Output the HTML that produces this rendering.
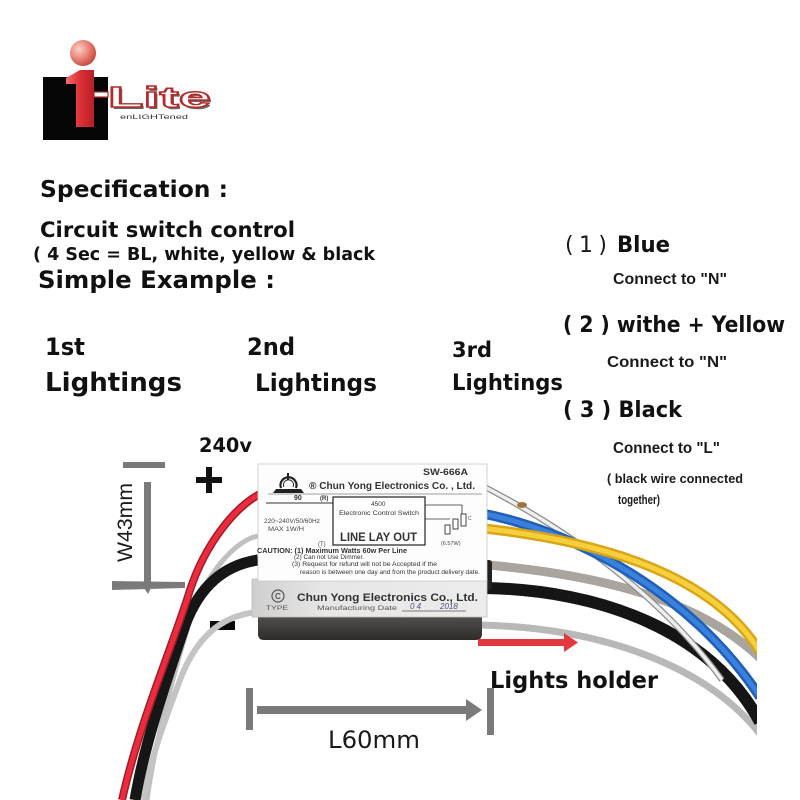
<!DOCTYPE html>
<html>
<head>
<meta charset="utf-8">
<style>
html,body{margin:0;padding:0;background:#fff;}
svg{display:block;}
.b{font-family:"DejaVu Sans","Liberation Sans",sans-serif;font-weight:bold;fill:#111;}
.r{font-family:"DejaVu Sans","Liberation Sans",sans-serif;font-weight:normal;fill:#1a1a1a;}
.l{font-family:"Liberation Sans","DejaVu Sans",sans-serif;font-weight:bold;fill:#1a1a1a;}
.s{font-family:"Liberation Sans",sans-serif;font-weight:bold;fill:#333;}
</style>
</head>
<body>
<svg width="800" height="800" viewBox="0 0 800 800" xmlns="http://www.w3.org/2000/svg">
<defs>
  <radialGradient id="ball" cx="0.35" cy="0.35" r="0.7">
    <stop offset="0" stop-color="#fbd0c8"/>
    <stop offset="0.5" stop-color="#ec8a7e"/>
    <stop offset="1" stop-color="#c8473c"/>
  </radialGradient>
  <linearGradient id="iGrad" x1="0" x2="1" y1="0" y2="0">
    <stop offset="0" stop-color="#f07070"/>
    <stop offset="0.45" stop-color="#e0333a"/>
    <stop offset="1" stop-color="#b81e26"/>
  </linearGradient>
  <linearGradient id="side" x1="0" x2="1" y1="0" y2="0">
    <stop offset="0" stop-color="#cfcfcf"/>
    <stop offset="0.3" stop-color="#e6e6e6"/>
    <stop offset="1" stop-color="#ececec"/>
  </linearGradient>
  <linearGradient id="base" x1="0" x2="0" y1="0" y2="1">
    <stop offset="0" stop-color="#5a5552"/>
    <stop offset="1" stop-color="#2e2b29"/>
  </linearGradient>
  <clipPath id="rclip"><rect x="0" y="0" width="757" height="800"/></clipPath>
</defs>

<!-- ===== Logo ===== -->
<rect x="43" y="77" width="65" height="63" fill="#050505"/>
<polygon points="66,78 80,70 94,70 94,127 76,127 76,84 66,84" fill="url(#iGrad)"/>
<circle cx="83" cy="53" r="13" fill="url(#ball)"/>
<rect x="94" y="92" width="14" height="5" fill="#fff" stroke="#b52a2a" stroke-width="1.2"/>
<text x="110" y="109" font-family="Liberation Sans, sans-serif" font-weight="bold" font-size="29" textLength="103" lengthAdjust="spacingAndGlyphs" fill="#666">Lite</text>
<text x="108" y="107" font-family="Liberation Sans, sans-serif" font-weight="bold" font-size="29" textLength="103" lengthAdjust="spacingAndGlyphs" fill="#fff" stroke="#b52a2a" stroke-width="1.4">Lite</text>
<text x="120" y="119" font-family="Liberation Sans, sans-serif" font-size="6" textLength="68" lengthAdjust="spacingAndGlyphs" fill="#333">enLIGHTened</text>

<!-- ===== Text block ===== -->
<text class="b" x="40" y="197" font-size="23.5" textLength="188" lengthAdjust="spacingAndGlyphs">Specification :</text>
<text class="b" x="40" y="237" font-size="21" textLength="255" lengthAdjust="spacingAndGlyphs">Circuit switch control</text>
<text class="b" x="33" y="260" font-size="17.5" textLength="342" lengthAdjust="spacingAndGlyphs">( 4 Sec = BL, white, yellow &amp; black</text>
<text class="b" x="38" y="288" font-size="24.3" textLength="237" lengthAdjust="spacingAndGlyphs">Simple Example :</text>

<text class="b" x="45" y="355" font-size="24" textLength="40" lengthAdjust="spacingAndGlyphs">1st</text>
<text class="b" x="45" y="391" font-size="26" textLength="137" lengthAdjust="spacingAndGlyphs">Lightings</text>
<text class="b" x="247" y="355" font-size="24" textLength="48" lengthAdjust="spacingAndGlyphs">2nd</text>
<text class="b" x="255" y="391" font-size="24" textLength="122" lengthAdjust="spacingAndGlyphs">Lightings</text>
<text class="b" x="452" y="357" font-size="21" textLength="40" lengthAdjust="spacingAndGlyphs">3rd</text>
<text class="b" x="452" y="390" font-size="22" textLength="111" lengthAdjust="spacingAndGlyphs">Lightings</text>

<text class="r" x="565" y="252" font-size="22" textLength="42" lengthAdjust="spacing">(1)</text>
<text class="b" x="617" y="252" font-size="22" textLength="53" lengthAdjust="spacingAndGlyphs">Blue</text>
<text class="l" x="613" y="284" font-size="15.5" textLength="114" lengthAdjust="spacingAndGlyphs">Connect to "N"</text>
<text class="b" x="563" y="332" font-size="22.5" textLength="222" lengthAdjust="spacingAndGlyphs">( 2 ) withe + Yellow</text>
<text class="l" x="607" y="367" font-size="16" textLength="120" lengthAdjust="spacingAndGlyphs">Connect to "N"</text>
<text class="b" x="563" y="417" font-size="22.5" textLength="119" lengthAdjust="spacingAndGlyphs">( 3 ) Black</text>
<text class="l" x="613" y="453" font-size="15.5" textLength="107" lengthAdjust="spacingAndGlyphs">Connect to "L"</text>
<text class="l" x="607" y="483" font-size="12.5" textLength="136" lengthAdjust="spacingAndGlyphs" fill="#222">( black wire connected</text>
<text class="l" x="618" y="504" font-size="12.5" textLength="42" lengthAdjust="spacingAndGlyphs" fill="#222">together)</text>

<!-- ===== 240v + / - ===== -->
<text class="b" x="199" y="452" font-size="19.5" textLength="53" lengthAdjust="spacingAndGlyphs">240v</text>
<rect x="196" y="477" width="26" height="6" fill="#111"/>
<rect x="206" y="467" width="6" height="26" fill="#111"/>
<rect x="210" y="621" width="25" height="9" fill="#0a0a0a"/>

<!-- ===== W43mm dimension ===== -->
<rect x="123" y="462" width="42" height="6" fill="#7a7a7a"/>
<rect x="144" y="482" width="7" height="106" fill="#7a7a7a"/>
<polygon points="112,581 185,582 185,588 112,590" fill="#7a7a7a"/>
<polygon points="144,588 151,588 148,594" fill="#7a7a7a"/>
<text x="0" y="0" transform="translate(132,562) rotate(-90)" font-family="Liberation Sans, sans-serif" font-size="21" textLength="79" lengthAdjust="spacingAndGlyphs" fill="#1a1a1a">W43mm</text>

<!-- ===== L60mm dimension ===== -->
<rect x="246" y="688" width="7" height="42" fill="#7a7a7a"/>
<rect x="257" y="706" width="212" height="8" fill="#7a7a7a"/>
<polygon points="466,699 482,710 466,721" fill="#7a7a7a"/>
<rect x="487" y="688" width="7" height="47" fill="#7a7a7a"/>
<text class="r" x="328" y="748" font-size="24" textLength="92" lengthAdjust="spacingAndGlyphs">L60mm</text>

<!-- ===== Right wires ===== -->
<g clip-path="url(#rclip)" fill="none" stroke-linecap="butt">
  <path d="M480,625 C610,628 710,670 760,734" stroke="#b8b8b8" stroke-width="7"/>
  <path d="M488,565 C600,575 700,600 760,658" stroke="#aaa49e" stroke-width="9"/>
  <path d="M485,588 C600,590 710,630 760,722" stroke="#151515" stroke-width="12"/>
  <path d="M477,483 C540,515 650,580 722,680" stroke="#8c8c8c" stroke-width="6"/>
  <path d="M477,483 C540,515 650,580 722,680" stroke="#eeeeee" stroke-width="3.5"/>
  <path d="M480,513 C570,530 690,590 760,697" stroke="#1f5fb8" stroke-width="10"/>
  <path d="M480,513 C570,530 690,590 760,697" stroke="#3a80dd" stroke-width="5"/>
  <path d="M480,528 C590,540 710,570 760,652" stroke="#d9a516" stroke-width="10"/>
  <path d="M480,528 C590,540 710,570 760,652" stroke="#f6cf3c" stroke-width="5"/>
</g>
<ellipse cx="522" cy="505" rx="5" ry="3" fill="#a0743c"/>

<!-- ===== Left wires ===== -->
<g fill="none">
  <path d="M258,536 C235,540 205,575 190,620 C175,670 155,740 147,800" stroke="#c0c0c0" stroke-width="5"/>
  <path d="M260,612 C220,614 195,640 180,680 C165,720 150,760 143,800" stroke="#c4c4c4" stroke-width="6"/>
  <path d="M258,560 C225,565 200,585 185,625 C170,670 145,740 135,800" stroke="#161616" stroke-width="11"/>
  <path d="M264,492 C235,505 205,545 190,590 C175,640 140,720 122,800" stroke="#a01c28" stroke-width="8"/>
  <path d="M264,492 C235,505 205,545 190,590 C175,640 140,720 122,800" stroke="#ec2b3e" stroke-width="5"/>
</g>

<!-- ===== Device ===== -->
<path d="M258,612 L482,612 L482,634 Q482,640 476,640 L264,640 Q258,640 258,634 Z" fill="url(#base)"/>
<rect x="484" y="560" width="8" height="30" rx="3" fill="#222"/>
<rect x="252" y="579" width="235" height="38" fill="url(#side)" stroke="#bdbdbd" stroke-width="0.8"/>
<rect x="258" y="464" width="229" height="117" fill="#fdfdfd" stroke="#c8c8c8" stroke-width="0.8"/>

<!-- header -->
<path d="M281,488 A8,8 0 1,1 296,488" fill="none" stroke="#222" stroke-width="2.2"/>
<path d="M284,487 A5,5 0 1,1 293,487" fill="none" stroke="#222" stroke-width="1"/>
<rect x="287" y="473" width="2" height="7" fill="#222"/>
<polygon points="276,489 301,489 304,493 273,493" fill="#222"/>
<line x1="268" y1="494" x2="482" y2="494" stroke="#444" stroke-width="0.6"/>
<text class="s" x="423" y="475" font-size="9" textLength="45" lengthAdjust="spacingAndGlyphs">SW-666A</text>
<text class="s" x="309" y="489" font-size="10" textLength="166" lengthAdjust="spacingAndGlyphs">® Chun Yong Electronics Co. , Ltd.</text>

<!-- circuit -->
<line x1="266" y1="503" x2="333" y2="503" stroke="#333" stroke-width="0.9"/>
<text class="s" x="294" y="500" font-size="7" fill="#333">90</text>
<text class="s" x="320" y="500" font-size="6" fill="#444">(R)</text>
<text x="264" y="523" font-family="Liberation Sans, sans-serif" font-size="6" textLength="56" lengthAdjust="spacingAndGlyphs" fill="#444">220~240V/50/60Hz</text>
<text x="268" y="531" font-family="Liberation Sans, sans-serif" font-size="6" textLength="36" lengthAdjust="spacingAndGlyphs" fill="#444">MAX 1W/H</text>
<text x="318" y="546" font-family="Liberation Sans, sans-serif" font-size="6" fill="#444">(T)</text>
<rect x="333" y="497" width="92" height="48" fill="#fff" stroke="#222" stroke-width="1.2"/>
<text x="371" y="506" font-family="Liberation Sans, sans-serif" font-size="6.5" fill="#333">4500</text>
<text x="339" y="515" font-family="Liberation Sans, sans-serif" font-size="6.5" textLength="80" lengthAdjust="spacingAndGlyphs" fill="#333">Electronic Control Switch</text>
<text class="s" x="340" y="541" font-size="11.5" textLength="77" lengthAdjust="spacingAndGlyphs" fill="#222">LINE LAY OUT</text>
<polyline points="425,505 462,505 462,514" fill="none" stroke="#333" stroke-width="0.8"/>
<polyline points="425,519 450,519" fill="none" stroke="#333" stroke-width="0.8"/>
<rect x="445" y="525" width="5" height="9" fill="none" stroke="#333" stroke-width="0.9"/>
<rect x="453" y="519" width="5" height="10" fill="none" stroke="#333" stroke-width="0.9"/>
<rect x="461" y="514" width="5" height="12" fill="none" stroke="#333" stroke-width="0.9"/>
<text x="441" y="545" font-family="Liberation Sans, sans-serif" font-size="5.5" fill="#444">(6.57W)</text>
<text x="468" y="520" font-family="Liberation Sans, sans-serif" font-size="5" fill="#444">C</text>

<!-- caution -->
<text class="s" x="257" y="553" font-size="7.2" textLength="150" lengthAdjust="spacingAndGlyphs" fill="#222">CAUTION: (1) Maximum Watts 60w Per Line</text>
<text x="294" y="559" font-family="Liberation Sans, sans-serif" font-size="6" textLength="70" lengthAdjust="spacingAndGlyphs" fill="#333">(2) Can not Use Dimmer.</text>
<text x="292" y="566" font-family="Liberation Sans, sans-serif" font-size="6" textLength="145" lengthAdjust="spacingAndGlyphs" fill="#333">(3) Request for refund will not be Accepted if the</text>
<text x="300" y="574" font-family="Liberation Sans, sans-serif" font-size="6" textLength="180" lengthAdjust="spacingAndGlyphs" fill="#333">reason is between one day and from the product delivery date.</text>

<!-- side label -->
<circle cx="278" cy="596" r="6" fill="none" stroke="#555" stroke-width="1.2"/>
<text x="275" y="599" font-family="Liberation Sans, sans-serif" font-weight="bold" font-size="8" fill="#555">C</text>
<text x="266" y="610" font-family="Liberation Sans, sans-serif" font-size="6.5" textLength="22" lengthAdjust="spacingAndGlyphs" fill="#555">TYPE</text>
<text class="s" x="297" y="601" font-size="11" textLength="181" lengthAdjust="spacingAndGlyphs" fill="#5a5a5a">Chun Yong Electronics Co., Ltd.</text>
<text x="317" y="610" font-family="Liberation Sans, sans-serif" font-size="6.5" textLength="80" lengthAdjust="spacingAndGlyphs" fill="#555">Manufacturing Date</text>
<line x1="402" y1="611" x2="466" y2="611" stroke="#555" stroke-width="0.8"/>
<text x="410" y="609" font-family="Liberation Sans, sans-serif" font-style="italic" font-size="8" fill="#4a5577">0 4</text>
<text x="440" y="609" font-family="Liberation Sans, sans-serif" font-style="italic" font-size="8" fill="#4a5577">2018</text>

<!-- ===== Red arrow & Lights holder ===== -->
<rect x="478" y="639" width="88" height="7" fill="#e2393f"/>
<polygon points="564,633 578,642.5 564,652" fill="#e2393f"/>
<text class="b" x="490" y="688" font-size="23" textLength="168" lengthAdjust="spacingAndGlyphs">Lights holder</text>
</svg>
</body>
</html>
